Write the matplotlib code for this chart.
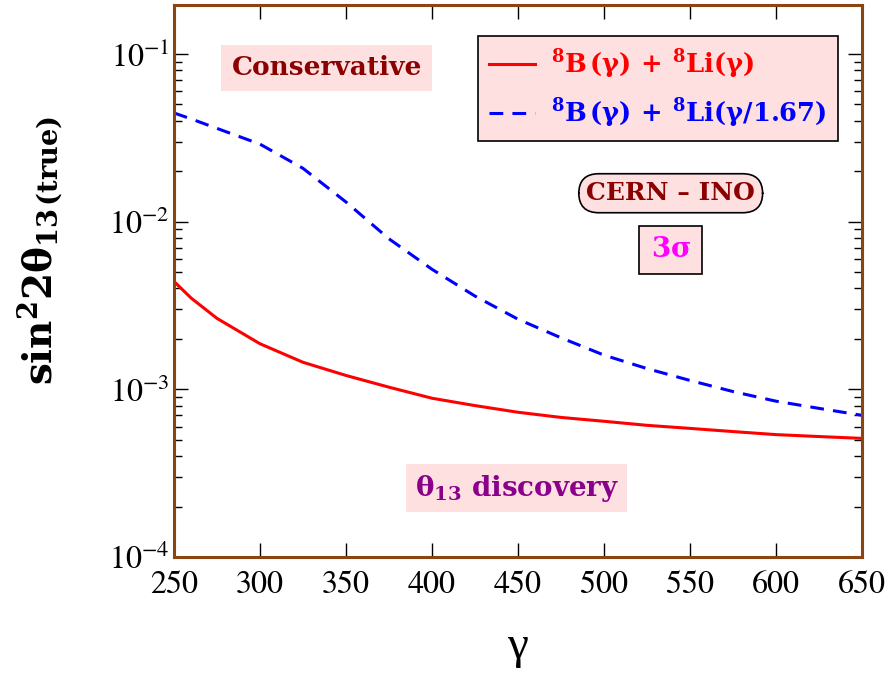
import numpy as np
import matplotlib
matplotlib.use("Agg")
import matplotlib.pyplot as plt

# values (log scale)
gamma = [250, 260, 275, 300, 325, 350, 375, 400, 425, 450, 475, 500, 525, 550, 575, 600, 625, 650]
red_li = [4.4e-3, 3.5e-3, 2.65e-3, 1.87e-3, 1.45e-3, 1.21e-3, 1.03e-3, 8.85e-4, 8.0e-4, 7.3e-4,
          6.8e-4, 6.45e-4, 6.1e-4, 5.85e-4, 5.6e-4, 5.37e-4, 5.23e-4, 5.1e-4]
blue_li = [4.45e-2, 4.1e-2, 3.6e-2, 2.9e-2, 2.08e-2, 1.31e-2, 7.9e-3, 5.2e-3, 3.6e-3, 2.62e-3,
           2.03e-3, 1.6e-3, 1.33e-3, 1.13e-3, 9.7e-4, 8.5e-4, 7.7e-4, 7.0e-4]

lab_red = r"$\mathbf{^8B\,(\gamma)\ +\ ^8Li(\gamma)}$"
lab_blue = r"$\mathbf{^8B\,(\gamma)\ +\ ^8Li(\gamma/1.67)}$"

plt.rcParams["mathtext.fontset"] = "custom"
plt.rcParams["mathtext.rm"] = "STIXGeneral"
plt.rcParams["mathtext.it"] = "STIXGeneral:italic"
plt.rcParams["mathtext.bf"] = "DejaVu Serif:bold"
plt.rcParams["font.family"] = "STIXGeneral"

brown = "#8B4513"
pink = "#FFE0E0"

fig = plt.figure(figsize=(8.95, 6.75), dpi=100)
ax = fig.add_axes([0.1944, 0.1748, 0.7687, 0.8178])

ax.plot(gamma, red_li, color="red", lw=2.2, label=lab_red)
ax.plot(gamma, blue_li, color="blue", lw=2.2, dashes=(4.5, 3), label=lab_blue)

ax.set_yscale("log")
ax.set_xlim(250, 650)
ax.set_ylim(1e-4, 0.196)
ax.set_xticks(range(250, 651, 50))

for s in ax.spines.values():
    s.set_color(brown)
    s.set_linewidth(2.2)
ax.tick_params(which="both", direction="in", top=True, right=True, labelsize=23)
ax.tick_params(which="major", length=10, width=1)
ax.tick_params(which="minor", length=6, width=1)
ax.tick_params(axis="x", pad=10)

ax.set_xlabel("γ", fontsize=34, family="Liberation Serif", labelpad=18)
ax.set_ylabel(r"$\mathbf{sin^{2}\!\,2\theta_{13\,(true)}}$", fontsize=28)
ax.yaxis.set_label_coords(-0.16, 0.556)

leg = ax.legend(loc="upper right", bbox_to_anchor=(0.965, 0.944), borderaxespad=0,
                fontsize=18.5, handlelength=1.8, fancybox=False, framealpha=1,
                labelcolor="linecolor", borderpad=0.45, labelspacing=0.6, handletextpad=0.6)
leg.get_frame().set_facecolor(pink)
leg.get_frame().set_edgecolor("black")
leg.get_frame().set_linewidth(1.2)

ax.text(0.222, 0.886, "Conservative", transform=ax.transAxes, ha="center", va="center",
        fontsize=19, fontweight="bold", family="DejaVu Serif", color="#8B0000",
        bbox=dict(boxstyle="square,pad=0.4", fc=pink, ec="none"))
ax.text(0.722, 0.659, "CERN – INO", transform=ax.transAxes, ha="center", va="center",
        fontsize=18, fontweight="bold", family="DejaVu Serif", color="#8B0000",
        bbox=dict(boxstyle="round,pad=0.3,rounding_size=0.8", fc=pink, ec="black", lw=1.2))
ax.text(0.722, 0.556, r"$\mathbf{3\sigma}$", transform=ax.transAxes, ha="center", va="center",
        fontsize=20, color="magenta",
        bbox=dict(boxstyle="square,pad=0.4", fc=pink, ec="black", lw=1.2))
ax.text(0.4985, 0.125, r"$\mathbf{\theta_{13}}$ discovery", transform=ax.transAxes,
        ha="center", va="center", fontsize=20, fontweight="bold", family="DejaVu Serif",
        color="#8B008B", bbox=dict(boxstyle="square,pad=0.3", fc=pink, ec="none"))

fig.savefig("out.png", dpi=100)
